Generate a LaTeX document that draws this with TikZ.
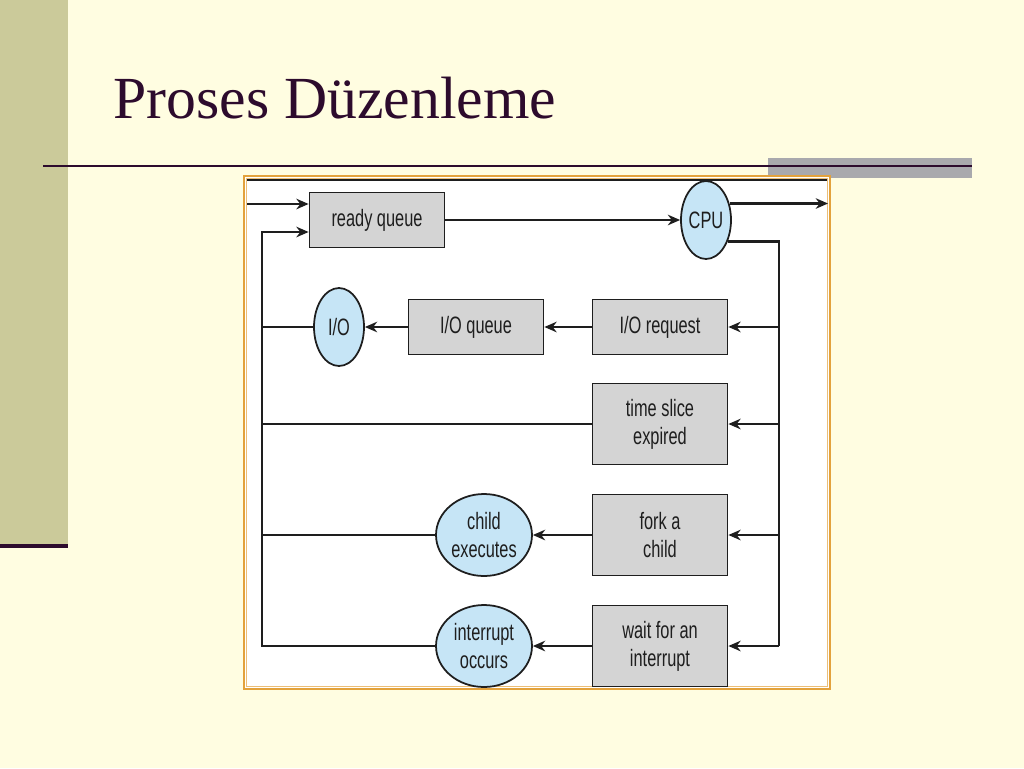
\documentclass[tikz,border=0pt]{standalone}
\usepackage{fontspec}
\setmainfont{Liberation Serif}
\newfontfamily\diagsf[FakeStretch=0.69]{Liberation Sans}
\usetikzlibrary{positioning,arrows.meta,shapes.geometric}
\definecolor{slidebg}{HTML}{FFFDE1}
\definecolor{slideolive}{HTML}{CBCA9A}
\definecolor{slideplum}{HTML}{2D0B2D}
\definecolor{slidegrey}{HTML}{A9A9AD}
\definecolor{framegold}{HTML}{E3A23C}
\definecolor{qgrey}{HTML}{D4D4D4}
\definecolor{qblue}{HTML}{C6E5F6}
\definecolor{qink}{HTML}{1E1E1E}

\begin{document}
\begin{tikzpicture}[x=0.02cm,y=-0.02cm,
  qbox/.style={draw=qink,fill=qgrey,line width=1pt,minimum width=2.7cm,minimum height=1.1cm,inner sep=1pt,align=center,font=\diagsf\fontsize{13.5}{16}\selectfont,text=qink},
  tallbox/.style={qbox,minimum height=1.62cm},
  qell/.style={ellipse,draw=qink,fill=qblue,line width=1pt,inner sep=0pt,align=center,font=\diagsf\fontsize{13.5}{16}\selectfont,text=qink,minimum width=1cm,minimum height=1.56cm},
  bigell/.style={qell,minimum width=1.92cm,minimum height=1.64cm},
  flow/.style={draw=qink,line width=1.4pt},
  arr/.style={flow,-{Stealth[length=7pt,width=6pt]}}]
\useasboundingbox (0,0) rectangle (1024,768);
\fill[slidebg] (0,0) rectangle (1024,768);
\fill[slideolive] (0,0) rectangle (68,544);
\fill[slideplum] (0,544) rectangle (68,548);
\node[anchor=base west,inner sep=0pt,font=\fontsize{34}{38}\selectfont,text=slideplum] (title) at (113,118) {Proses Düzenleme};
\fill[slidegrey] (768,158) rectangle (972,178);
\draw[slideplum,line width=1.3pt] (43,166) -- (972,166);
\draw[framegold,line width=1.6pt,fill=white] (244,176) rectangle (830,689);
\draw[framegold!70!white,line width=0.5pt] (246.5,178.5) rectangle (827.5,686.5);
\draw[qink,line width=1.4pt] (247,180) -- (827,180);
\node[qbox] (rdyq) at (377,220) {ready queue};
\node[qell] (cpu) at (706,220) {CPU};
\node[qbox] (ioreq) at (660,327) {I/O request};
\node[qbox] (ioq) at (476,327) {I/O queue};
\node[qell] (io) at (339,327) {I/O};
\node[tallbox] (tslice) at (660,424) {time slice\\expired};
\node[tallbox] (fork) at (660,535) {fork a\\child};
\node[bigell] (child) at (484,535) {child\\executes};
\node[tallbox] (waitint) at (660,646) {wait for an\\interrupt};
\node[bigell] (intocc) at (484,646) {interrupt\\occurs};
\coordinate (newin) at (247,204);
\coordinate (cpuout) at (828,0);
\coordinate (busR) at (779,0);
\coordinate (busL) at (262,232);
\draw[arr] (newin) -- (newin -| rdyq.west);
\draw[arr] (rdyq) -- (cpu);
\draw[arr] (cpu.35) -- (cpu.35 -| cpuout);
\draw[flow] (cpu.-45) -- (cpu.-45 -| busR) -- (busR |- waitint);
\foreach \n in {ioreq,tslice,fork,waitint}
  \draw[arr] (busR |- \n.east) -- (\n.east);
\draw[arr] (ioreq) -- (ioq);
\draw[arr] (ioq) -- (io);
\draw[arr] (fork) -- (child);
\draw[arr] (waitint) -- (intocc);
\draw[arr] (intocc.west) -- (intocc.west -| busL) -- (busL) -- (busL -| rdyq.west);
\draw[flow] (io.west) -- (io.west -| busL);
\draw[flow] (tslice.west) -- (tslice.west -| busL);
\draw[flow] (child.west) -- (child.west -| busL);
\end{tikzpicture}
\end{document}
